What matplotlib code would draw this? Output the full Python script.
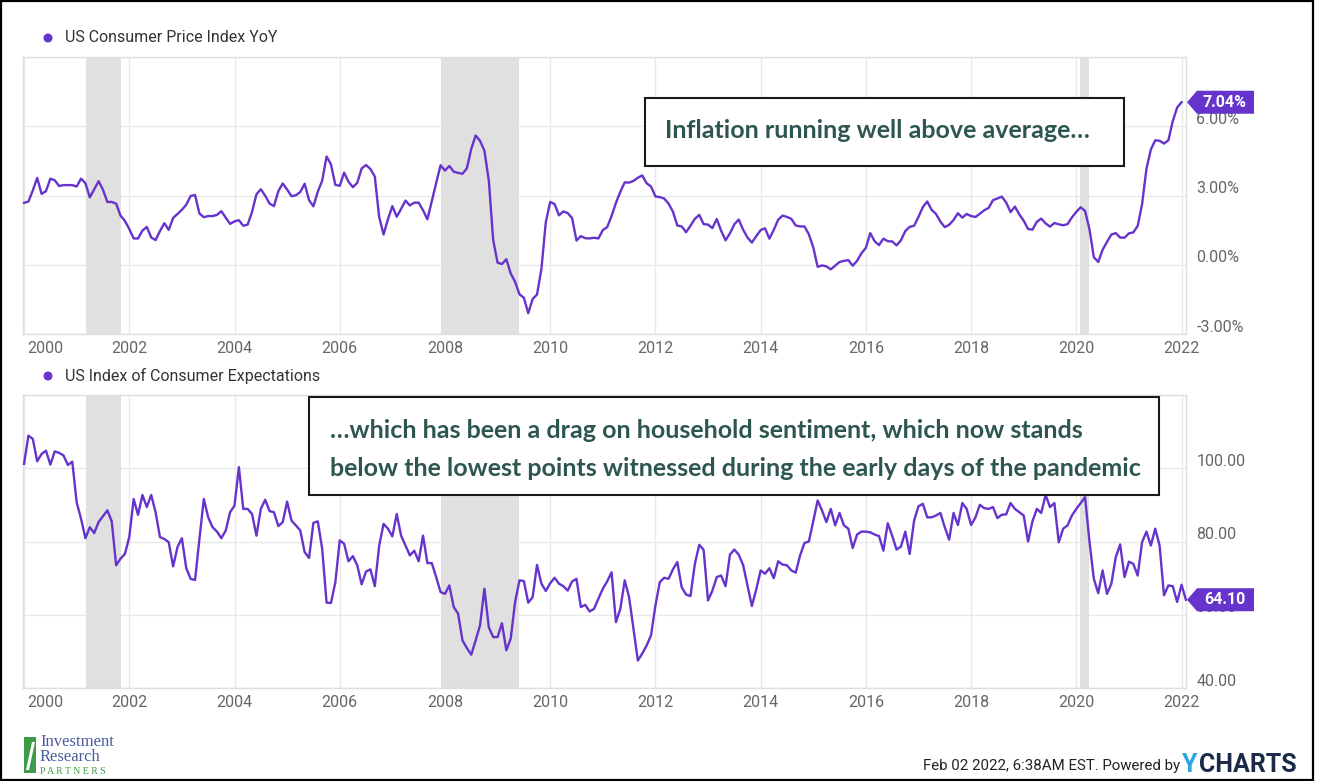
import numpy as np
import matplotlib
matplotlib.use("Agg")
import matplotlib.pyplot as plt
from matplotlib.patches import Rectangle, Polygon, Ellipse

W, H, DPI = 1317, 781, 100

# ---------------- data (monthly, month-end dated, starting Dec 1999) ----------------
start_year, start_month = 1999, 12

cpi_yoy = [
    2.68,
    2.74, 3.22, 3.76, 3.07, 3.19, 3.73, 3.66, 3.41, 3.45, 3.45, 3.45, 3.39,
    3.73, 3.53, 2.92, 3.27, 3.62, 3.25, 2.72, 2.72, 2.65, 2.13, 1.90, 1.55,
    1.14, 1.14, 1.48, 1.64, 1.18, 1.07, 1.46, 1.80, 1.51, 2.03, 2.20, 2.38,
    2.60, 2.98, 3.02, 2.22, 2.06, 2.11, 2.11, 2.16, 2.32, 2.04, 1.77, 1.88,
    1.93, 1.69, 1.74, 2.29, 3.05, 3.27, 2.99, 2.65, 2.54, 3.19, 3.52, 3.26,
    2.97, 3.01, 3.15, 3.51, 2.80, 2.53, 3.17, 3.64, 4.69, 4.35, 3.46, 3.42,
    3.99, 3.60, 3.36, 3.55, 4.17, 4.32, 4.15, 3.82, 2.06, 1.31, 1.97, 2.54,
    2.08, 2.42, 2.78, 2.57, 2.69, 2.69, 2.36, 1.97, 2.76, 3.54, 4.31, 4.08,
    4.28, 4.03, 3.98, 3.94, 4.18, 5.02, 5.60, 5.37, 4.94, 3.66, 1.07, 0.09,
    0.03, 0.24, -0.38, -0.74, -1.28, -1.43, -2.10, -1.48, -1.29, -0.18, 1.84, 2.72,
    2.63, 2.14, 2.31, 2.24, 2.02, 1.05, 1.24, 1.15, 1.14, 1.17, 1.14, 1.50,
    1.63, 2.11, 2.68, 3.16, 3.57, 3.56, 3.63, 3.77, 3.87, 3.53, 3.39, 2.96,
    2.93, 2.87, 2.65, 2.30, 1.70, 1.66, 1.41, 1.69, 1.99, 2.16, 1.76, 1.74,
    1.59, 1.98, 1.47, 1.06, 1.36, 1.75, 1.96, 1.52, 1.18, 0.96, 1.24, 1.50,
    1.58, 1.13, 1.51, 1.95, 2.13, 2.07, 1.99, 1.70, 1.66, 1.66, 1.32, 0.76,
    -0.09, -0.03, -0.07, -0.20, -0.04, 0.12, 0.17, 0.20, -0.04, 0.17, 0.50, 0.73,
    1.37, 1.02, 0.85, 1.13, 1.02, 1.01, 0.84, 1.06, 1.46, 1.64, 1.69, 2.07,
    2.50, 2.74, 2.38, 2.20, 1.87, 1.63, 1.73, 1.94, 2.23, 2.04, 2.20, 2.11,
    2.07, 2.21, 2.36, 2.46, 2.80, 2.87, 2.95, 2.70, 2.28, 2.52, 2.18, 1.91,
    1.55, 1.52, 1.86, 2.00, 1.79, 1.65, 1.81, 1.75, 1.71, 1.76, 2.05, 2.29,
    2.49, 2.33, 1.54, 0.33, 0.12, 0.65, 0.99, 1.31, 1.37, 1.18, 1.17, 1.36,
    1.40, 1.68, 2.62, 4.16, 4.99, 5.39, 5.37, 5.25, 5.39, 6.22, 6.81, 7.04,
]

consumer_expectations = [
    101.2,
    108.9, 108.0, 101.9, 103.9, 104.8, 101.0, 104.6, 104.2, 103.5, 100.9, 101.8, 90.7,
    86.2, 80.9, 83.9, 82.3, 85.3, 86.9, 88.5, 85.5, 73.5, 75.3, 76.6, 81.2,
    91.6, 87.3, 92.7, 89.4, 92.7, 88.0, 81.2, 80.7, 79.8, 73.2, 78.5, 80.9,
    72.7, 69.8, 69.5, 80.7, 91.6, 86.6, 83.9, 82.7, 80.9, 83.0, 88.0, 89.8,
    100.3, 88.9, 88.9, 87.5, 81.6, 88.9, 91.4, 88.3, 88.0, 84.2, 85.3, 90.9,
    85.7, 84.4, 83.0, 77.1, 75.5, 85.1, 85.5, 78.0, 63.3, 63.2, 68.9, 80.3,
    79.4, 74.6, 76.0, 73.5, 68.3, 71.8, 72.4, 67.8, 78.9, 84.8, 83.5, 81.4,
    87.5, 81.6, 78.9, 76.2, 77.5, 74.6, 81.6, 74.1, 74.1, 70.3, 66.2, 65.7,
    68.0, 62.1, 60.3, 53.0, 50.9, 49.1, 53.0, 57.1, 67.1, 56.6, 53.9, 53.9,
    57.7, 50.3, 53.5, 63.5, 69.4, 69.2, 63.3, 64.8, 73.6, 68.5, 66.5, 68.6,
    70.1, 68.5, 67.8, 66.6, 69.1, 69.8, 62.1, 62.7, 60.9, 61.6, 64.4, 67.1,
    69.1, 71.6, 58.0, 61.6, 69.4, 64.8, 56.2, 47.5, 49.4, 51.6, 54.4, 62.5,
    68.9, 70.1, 69.8, 72.4, 74.4, 67.5, 65.5, 65.1, 73.9, 79.1, 77.7, 63.9,
    66.6, 70.3, 70.7, 67.8, 76.4, 77.8, 76.4, 73.6, 68.0, 62.4, 66.9, 72.1,
    71.2, 72.7, 70.0, 74.6, 73.7, 73.5, 72.1, 71.5, 76.2, 79.6, 80.0, 85.5,
    91.2, 88.5, 85.3, 88.9, 84.4, 87.8, 84.4, 83.5, 78.2, 81.9, 82.7, 82.7,
    82.5, 81.9, 81.5, 77.5, 85.0, 81.6, 77.8, 78.6, 82.7, 76.6, 85.7, 89.6,
    90.3, 86.6, 86.6, 87.1, 87.8, 83.9, 80.5, 87.8, 84.5, 90.5, 88.9, 84.5,
    86.6, 90.0, 89.1, 88.9, 89.4, 86.4, 87.3, 87.4, 90.5, 88.9, 88.0, 87.1,
    80.0, 85.5, 88.9, 87.8, 92.7, 89.4, 90.5, 79.8, 83.5, 84.4, 87.1, 88.9,
    90.5, 92.1, 80.0, 69.8, 65.9, 72.1, 65.7, 68.5, 75.7, 79.2, 70.3, 74.5,
    73.9, 70.7, 79.8, 82.7, 78.9, 83.5, 78.9, 65.3, 68.0, 67.8, 63.5, 68.2,
    64.1,
]

recessions = [(2001.17, 2001.84), (2007.92, 2009.41), (2020.07, 2020.24)]
year_ticks = list(range(2000, 2023, 2))
cpi_ticks = [-3, 0, 3, 6]
ice_ticks = [40, 60, 80, 100]

series_names = ["US Consumer Price Index YoY", "US Index of Consumer Expectations"]
notes = ["Inflation running well above average\u2026",
         "\u2026which has been a drag on household sentiment, which now stands",
         "below the lowest points witnessed during the early days of the pandemic"]

# ---------------- style ----------------
PURPLE = "#6633CC"
GRID = "#e9e9e9"
SPINE = "#dedede"
TICKC = "#666666"
NOTEC = "#2E5651"
BAND = "#e0e0e0"
FONT = "Roboto"
NOTE_SIZE = 18


def months_to_x(n):
    m = np.arange(n)
    return start_year + (start_month + m) / 12.0


fig = plt.figure(figsize=(W / DPI, H / DPI), dpi=DPI)
fig.patch.set_facecolor("white")


def rect(l, t, r, b):
    return [l / W, 1 - b / H, (r - l) / W, (b - t) / H]


def fx(px):
    return px / W


def fy(py):
    return 1 - py / H


XL = (1999.98, 2022.085)


def setup_axis(ax, ylim, yticks, fmt, data, label_text):
    ax.set_xlim(*XL)
    ax.set_ylim(*ylim)
    for a, b in recessions:
        ax.axvspan(a, b, color=BAND, lw=0, zorder=1)
    for yr in year_ticks:
        ax.axvline(yr, color=GRID, lw=1, zorder=0)
    for v in yticks:
        ax.axhline(v, color=GRID, lw=1, zorder=0)
    x = months_to_x(len(data))
    ax.plot(x, data, color=PURPLE, lw=1.7, zorder=3, clip_on=False,
            solid_joinstyle="round")
    ax.set_xticks([])
    ax.set_yticks([])
    for s in ax.spines.values():
        s.set_color(SPINE)
        s.set_linewidth(1)
    # x tick labels
    for i, yr in enumerate(year_ticks):
        if i == 0:
            ax.annotate(str(yr), xy=(yr, 0), xycoords=("data", "axes fraction"),
                        xytext=(2.5, -10.5), textcoords="offset points",
                        ha="left", va="center", fontsize=11.5, color=TICKC,
                        family=FONT, annotation_clip=False)
        else:
            ax.annotate(str(yr), xy=(yr, 0), xycoords=("data", "axes fraction"),
                        xytext=(0, -10.5), textcoords="offset points",
                        ha="center", va="center", fontsize=11.5, color=TICKC,
                        family=FONT, annotation_clip=False)
    # y tick labels on the right
    for v in yticks:
        ax.annotate(fmt(v), xy=(1, v), xycoords=("axes fraction", "data"),
                    xytext=(7.5, 5), textcoords="offset points",
                    ha="left", va="center", fontsize=11.5, color=TICKC,
                    family=FONT, annotation_clip=False, zorder=2)
    # last value tag
    fig.canvas.draw()
    xl, yl = x[-1], data[-1]
    px, py = ax.transData.transform((xl, yl))
    py = H - py  # to top-origin pixels
    tip = 1187
    bx0, bx1 = 1197, 1254
    hh = 11.5
    poly = Polygon([(fx(tip), fy(py)), (fx(bx0), fy(py - hh)), (fx(bx1), fy(py - hh)),
                    (fx(bx1), fy(py + hh)), (fx(bx0), fy(py + hh))],
                   closed=True, transform=fig.transFigure, facecolor=PURPLE,
                   edgecolor="none", zorder=10)
    fig.patches.append(poly)
    fig.text(fx((bx0 + bx1) / 2 - 1), fy(py), label_text, ha="center", va="center",
             color="white", fontsize=11.5, fontweight="bold", family=FONT, zorder=11)


ax1 = fig.add_axes(rect(23, 57, 1186, 334))
setup_axis(ax1, (-3, 9), cpi_ticks, lambda v: f"{v:.2f}%", cpi_yoy,
           f"{cpi_yoy[-1]:.2f}%")

ax2 = fig.add_axes(rect(23, 395, 1186, 688))
setup_axis(ax2, (40, 120), ice_ticks, lambda v: f"{v:.2f}", consumer_expectations,
           f"{consumer_expectations[-1]:.2f}")

# legends
for name, ly in zip(series_names, [38, 376]):
    fig.patches.append(Ellipse((fx(48), fy(ly)), 9 / W, 9 / H, transform=fig.transFigure,
                               facecolor=PURPLE, edgecolor="none"))
    fig.text(fx(65), fy(ly), name, ha="left", va="center", fontsize=11.5,
             color="#333333", family=FONT)

# annotation boxes
fig.patches.append(Rectangle((fx(645), fy(166)), (1124 - 645) / W, (166 - 98) / H,
                             transform=fig.transFigure, facecolor="white",
                             edgecolor="#1a1a1a", lw=1.5, zorder=20))
fig.text(fx(665), fy(131), notes[0], ha="left", va="center", fontsize=NOTE_SIZE,
         fontweight="bold", color=NOTEC, family="Lato", zorder=21)

fig.patches.append(Rectangle((fx(309), fy(495)), (1159 - 309) / W, (495 - 397) / H,
                             transform=fig.transFigure, facecolor="white",
                             edgecolor="#1a1a1a", lw=1.5, zorder=20))
fig.text(fx(330), fy(431), notes[1], ha="left", va="center", fontsize=NOTE_SIZE,
         fontweight="bold", color=NOTEC, family="Lato", zorder=21)
fig.text(fx(330), fy(469), notes[2], ha="left", va="center", fontsize=NOTE_SIZE,
         fontweight="bold", color=NOTEC, family="Lato", zorder=21)

# footer
fig.text(fx(1180), fy(766), "Feb 02 2022, 6:38AM EST. Powered by", ha="right",
         va="center", fontsize=10.8, color="#222222", family=FONT)
fig.text(fx(1182), fy(765), "Y", ha="left", va="center", fontsize=18,
         fontweight="bold", color="#2AA7DF", family=FONT)
fig.text(fx(1199), fy(765), "CHARTS", ha="left", va="center", fontsize=18,
         fontweight="bold", color="#1B2A48", family=FONT)

# logo
fig.patches.append(Rectangle((fx(24), fy(773)), 12 / W, 36 / H, transform=fig.transFigure,
                             facecolor="#3e9b47", edgecolor="none"))
fig.patches.append(Polygon([(fx(26), fy(770)), (fx(29), fy(770)), (fx(35), fy(742)),
                            (fx(32), fy(742))], closed=True, transform=fig.transFigure,
                           facecolor="white", edgecolor="none"))
fig.text(fx(40), fy(742), "Investment", ha="left", va="center", fontsize=12,
         color="#4a5d9a", family="Liberation Serif")
fig.text(fx(40), fy(757), "Research", ha="left", va="center", fontsize=12,
         color="#4a5d9a", family="Liberation Serif")
fig.text(fx(40), fy(771), "P A R T N E R S", ha="left", va="center", fontsize=7,
         color="#3e9b47", family="Liberation Serif")

# outer frame
fig.patches.append(Rectangle((fx(1), fy(780)), (1313 - 1) / W, (780 - 1) / H,
                             transform=fig.transFigure, facecolor="none",
                             edgecolor="black", lw=1.6, zorder=30))

fig.savefig("out.png", dpi=DPI)
